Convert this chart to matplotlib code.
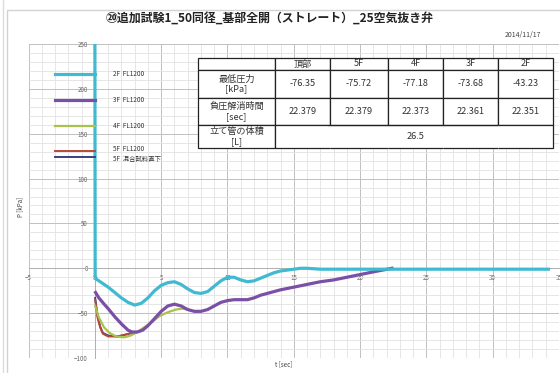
"""Pressure vs time for the additional riser test #20 with summary table."""

import matplotlib

matplotlib.use("Agg")
import matplotlib.pyplot as plt
from matplotlib.lines import Line2D
from matplotlib.patches import Rectangle
from matplotlib.ticker import MultipleLocator

plt.rcParams["font.family"] = ["Noto Sans CJK JP", "DejaVu Sans"]

TITLE = "⑳追加試験1_50同径_基部全開（ストレート）_25空気抜き弁"
DATE = "2014/11/17"

# 2F FL1200
T_2F = [0.0, 0.02, 0.1, 0.5, 1.0, 1.5, 2.0, 2.5, 3.0, 3.5, 4.0, 4.5, 5.0, 5.5,
        6.0, 6.5, 7.0, 7.5, 8.0, 8.5, 9.0, 9.5, 10.0, 10.5, 11.0, 11.5, 12.0,
        12.5, 13.0, 13.5, 14.0, 14.5, 15.0, 15.5, 16.0, 17.0, 20.0, 25.0,
        30.0, 34.2]
P_2F = [250, -8, -12, -16, -21, -27, -33, -38, -41, -39, -33, -25, -19, -16,
        -15, -18, -23, -27, -28, -26, -20, -14, -10, -10, -13, -15, -14,
        -11, -8, -5, -3, -2, -1, 0, 0, -1, -1, -1, -1, -1]

# 3F FL1200
T_3F = [0.05, 0.3, 0.7, 1.0, 1.5, 2.0, 2.5, 2.8, 3.2, 3.6, 4.0, 4.5, 5.0,
        5.5, 6.0, 6.5, 7.0, 7.5, 8.0, 8.5, 9.0, 9.5, 10.0, 10.5, 11.0, 11.5,
        12.0, 12.5, 13.0, 14.0, 15.0, 16.0, 17.0, 18.0, 19.0, 20.0, 21.0,
        21.7, 22.4]
P_3F = [-27, -33, -40, -45, -54, -62, -69, -71, -71, -69, -64, -56, -48,
        -42, -40, -42, -46, -48, -48, -46, -42, -38, -36, -35, -35, -35,
        -33, -30, -28, -24, -21, -18, -15, -13, -10, -7, -4, -2, 0]

# 4F FL1200
T_4F = [0.02, 0.3, 0.7, 1.1, 1.6, 2.2, 2.7, 3.2, 3.8, 4.3, 4.9, 5.5, 6.1,
        6.6, 7.0]
P_4F = [-42, -55, -66, -72, -76, -77, -75, -71, -65, -60, -53, -49, -46,
        -45, -46]

# 5F FL1200
T_5F = [0.02, 0.2, 0.4, 0.6, 1.0, 1.7, 2.3, 2.8, 3.2]
P_5F = [-35, -55, -66, -73, -76, -76, -74, -72, -71]

# 5F directly below the sample
T_5F_B = [0.02, 0.2, 0.4, 0.6, 1.0, 1.7, 2.3, 2.8]
P_5F_B = [-33, -53, -65, -72, -75, -76, -74, -72]

SERIES = [
    ("5F  混合試料直下", T_5F_B, P_5F_B, "#3b4180", 1.4),
    ("5F  FL1200", T_5F, P_5F, "#b5473c", 1.4),
    ("4F  FL1200", T_4F, P_4F, "#a9c24a", 1.6),
    ("3F  FL1200", T_3F, P_3F, "#7a50a6", 2.3),
    ("2F  FL1200", T_2F, P_2F, "#3fbad0", 2.3),
]
LEGEND_ORDER = ["2F  FL1200", "3F  FL1200", "4F  FL1200", "5F  FL1200",
                "5F  混合試料直下"]

# summary table
TABLE_COLS = ["", "頂部", "5F", "4F", "3F", "2F"]
MIN_PRESSURE = ["-76.35", "-75.72", "-77.18", "-73.68", "-43.23"]
RELEASE_TIME = ["22.379", "22.379", "22.373", "22.361", "22.351"]
RISER_VOLUME = "26.5"

W, H = 560, 373
fig = plt.figure(figsize=(W / 100, H / 100), dpi=100)

# outer chart frame
fig.add_artist(Rectangle((7 / W, -0.05), 1.0, 1 - 10 / H + 0.05,
                         transform=fig.transFigure, fill=False,
                         edgecolor="#d2d2d2", linewidth=1.0))
fig.add_artist(Line2D([2.5 / W, 2.5 / W], [0, 1], transform=fig.transFigure,
                      color="#dcdcdc", linewidth=1.0))

x0, x1 = 28.6, 559.0
y_top, y_bot = 44.0, 358.0
ax = fig.add_axes([x0 / W, 1 - y_bot / H, (x1 - x0) / W, (y_bot - y_top) / H])

for label, t, p, color, lw in SERIES:
    ax.plot(t, p, color=color, linewidth=lw, solid_joinstyle="round",
            label=label, zorder=3)

ax.set_xlim(-5, 35)
ax.set_ylim(-100, 250)
ax.xaxis.set_major_locator(MultipleLocator(5))
ax.xaxis.set_minor_locator(MultipleLocator(1))
ax.yaxis.set_major_locator(MultipleLocator(50))
ax.yaxis.set_minor_locator(MultipleLocator(10))
ax.grid(which="minor", color="#e2e2e2", linewidth=0.6)
ax.grid(which="major", color="#c0c0c0", linewidth=0.7)
ax.set_axisbelow(True)

for side in ("top", "right"):
    ax.spines[side].set_visible(False)
ax.spines["left"].set_position(("data", 0))
ax.spines["bottom"].set_position(("data", 0))
for side in ("left", "bottom"):
    ax.spines[side].set_color("#b0b0b0")
    ax.spines[side].set_linewidth(0.7)
ax.tick_params(which="both", length=0, labelsize=4.5, labelcolor="#666666")
ax.tick_params(axis="y", pad=5)
ax.tick_params(axis="x", pad=4)

fig.text(20 / W, 1 - 207 / H, "P [kPa]", rotation=90, fontsize=4.5,
         color="#444444", ha="center", va="center")
fig.text(284 / W, 1 - 364 / H, "t [sec]", fontsize=4.5, color="#444444",
         ha="center", va="center")

fig.text(270 / W, 1 - 18 / H, TITLE, fontsize=8.6, fontweight="bold",
         ha="center", va="center", color="#222222")
fig.text(523 / W, 1 - 35 / H, DATE, fontsize=5, ha="center", va="center",
         color="#444444")

# legend drawn as separate rows
handles = {label: (color, lw) for label, _, _, color, lw in SERIES}
legend_rows = [74, 100, 126, 151, 157]
label_rows = [74, 100, 126, 149.5, 159]
for label, yp, yl in zip(LEGEND_ORDER, legend_rows, label_rows):
    color, lw = handles[label]
    fig.add_artist(Line2D([55 / W, 95 / W], [1 - yp / H] * 2,
                          transform=fig.transFigure, color=color,
                          linewidth=lw))
    fig.text(113 / W, 1 - yl / H, label, fontsize=4.6, va="center",
             color="#333333")

# summary table
cells = [
    TABLE_COLS,
    ["最低圧力\n[kPa]"] + MIN_PRESSURE,
    ["負圧解消時間\n[sec]"] + RELEASE_TIME,
    ["立て管の体積\n[L]", "", "", RISER_VOLUME, "", ""],
]
col_px = [77, 55, 58, 55, 55, 55]
row_px = [12, 28, 27, 23]
tx0, tx1, ty0, ty1 = 198, 553, 58, 148
bbox = [(tx0 - x0) / (x1 - x0), (y_bot - ty1) / (y_bot - y_top),
        (tx1 - tx0) / (x1 - x0), (ty1 - ty0) / (y_bot - y_top)]
ax.add_patch(Rectangle((bbox[0], bbox[1]), bbox[2], bbox[3],
                       transform=ax.transAxes, facecolor="white",
                       edgecolor="none", zorder=4))
table = ax.table(cellText=cells, cellLoc="center", bbox=bbox,
                 colWidths=[c / sum(col_px) for c in col_px])
table.auto_set_font_size(False)
table.set_zorder(5)
for (r, c), cell in table.get_celld().items():
    cell.set_height(row_px[r] / sum(row_px))
    cell.set_facecolor("white")
    cell.set_edgecolor("#222222")
    cell.set_linewidth(0.9)
    txt = cell.get_text()
    txt.set_fontsize(6.6)
    txt.set_color("#333333")
    txt.set_linespacing(1.1)
    if r == 3 and c >= 1:
        edges = "TB"
        if c == 1:
            edges = "LTB"
        elif c == 5:
            edges = "RTB"
        cell.visible_edges = edges

fig.savefig("out.png", dpi=100)
